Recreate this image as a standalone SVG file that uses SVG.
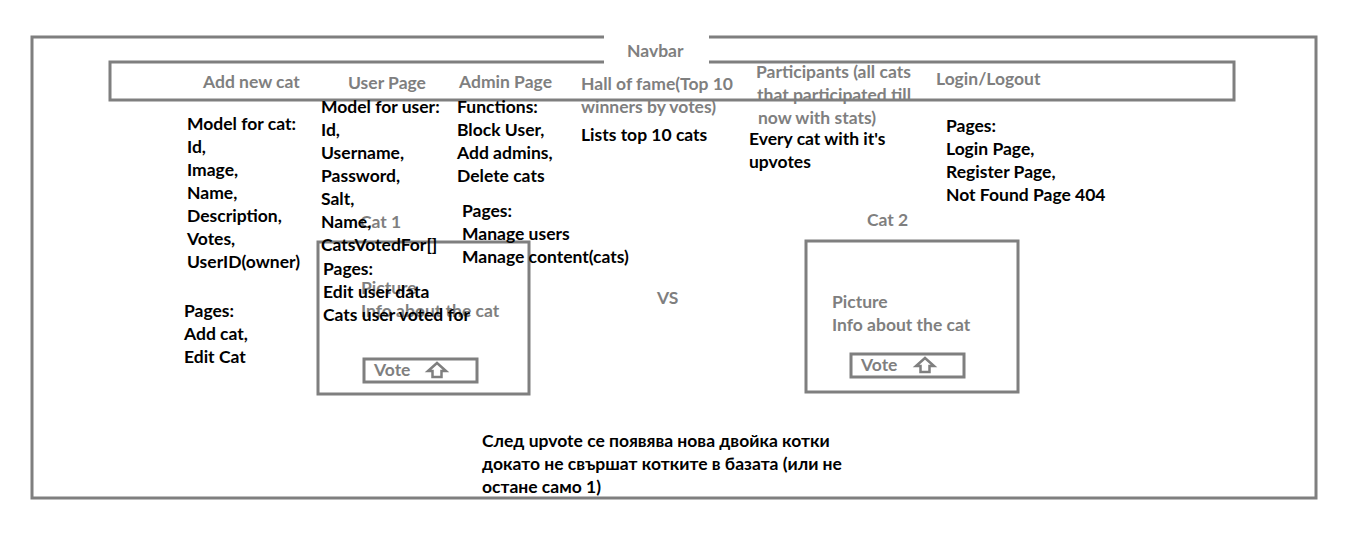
<svg xmlns="http://www.w3.org/2000/svg" width="1360" height="536" viewBox="0 0 1360 536">
<style>
text{font-family:Lato,"Liberation Sans","Noto Sans CJK SC",sans-serif;font-weight:bold;font-size:17.5px}
.g{fill:#7f7f7f}
.k{fill:#000}
.box{fill:none;stroke:#7f7f7f;stroke-width:3}
.arrow{fill:#fff;stroke:#7f7f7f;stroke-width:2.5;stroke-linejoin:miter}
</style>
<rect width="1360" height="536" fill="#fff"/>
<g id="page">
<rect class="box" x="32" y="37" width="1284" height="461"/>
</g>
<g id="navbar">
<rect class="box" x="110" y="62" width="1124" height="38"/>
<rect x="604" y="34" width="105" height="30" fill="#fff"/>
<text class="g" x="627" y="57">Navbar</text>
<text class="g" x="203" y="88">Add new cat</text>
<text class="g" x="348" y="89">User Page</text>
<text class="g" x="459" y="88">Admin Page</text>
<text class="g" x="581" y="90">Hall of fame(Top 10</text>
<text class="g" x="581" y="113">winners by votes)</text>
<text class="g" x="756" y="78">Participants (all cats</text>
<text class="g" x="757" y="101">that participated till</text>
<text class="g" x="758" y="124">now with stats)</text>
<text class="g" x="936" y="85">Login/Logout</text>
</g>
<g id="cat-model">
<text class="k" x="187" y="130">Model for cat:</text>
<text class="k" x="187" y="153">Id,</text>
<text class="k" x="187" y="176">Image,</text>
<text class="k" x="187" y="199">Name,</text>
<text class="k" x="187" y="222">Description,</text>
<text class="k" x="187" y="245">Votes,</text>
<text class="k" x="187" y="268">UserID(owner)</text>
<text class="k" x="184" y="317">Pages:</text>
<text class="k" x="184" y="340">Add cat,</text>
<text class="k" x="184" y="363">Edit Cat</text>
</g>
<g id="cat1">
<rect class="box" x="318" y="242" width="211" height="152"/>
<text class="g" x="360" y="228">Cat 1</text>
<text class="g" x="361" y="294">Picture</text>
<text class="g" x="361" y="317">Info about the cat</text>
<rect class="box" x="364" y="359" width="113" height="23"/>
<text class="g" x="374" y="376">Vote</text>
<path class="arrow" d="M437,363 L446,371 L441.5,371 L441.5,377 L432.5,377 L432.5,371 L428,371 Z"/>
</g>
<g id="user-model">
<text class="k" x="321" y="113">Model for user:</text>
<text class="k" x="321" y="136">Id,</text>
<text class="k" x="321" y="159">Username,</text>
<text class="k" x="321" y="182">Password,</text>
<text class="k" x="321" y="205">Salt,</text>
<text class="k" x="321" y="228">Name,</text>
<text class="k" x="321" y="251">CatsVotedFor[]</text>
<text class="k" x="323" y="275">Pages:</text>
<text class="k" x="323" y="298">Edit user data</text>
<text class="k" x="323" y="321">Cats user voted for</text>
</g>
<g id="admin">
<text class="k" x="457" y="113">Functions:</text>
<text class="k" x="457" y="136">Block User,</text>
<text class="k" x="457" y="159">Add admins,</text>
<text class="k" x="457" y="182">Delete cats</text>
<text class="k" x="462" y="217">Pages:</text>
<text class="k" x="462" y="240">Manage users</text>
<text class="k" x="462" y="263">Manage content(cats)</text>
</g>
<g id="hall">
<text class="k" x="581" y="141">Lists top 10 cats</text>
</g>
<g id="participants">
<text class="k" x="749" y="145">Every cat with it's</text>
<text class="k" x="749" y="168">upvotes</text>
</g>
<g id="login">
<text class="k" x="946" y="132">Pages:</text>
<text class="k" x="946" y="155">Login Page,</text>
<text class="k" x="946" y="178">Register Page,</text>
<text class="k" x="946" y="201">Not Found Page 404</text>
</g>
<g id="vs">
<text class="g" x="657" y="304">VS</text>
</g>
<g id="cat2">
<rect class="box" x="806" y="241" width="212" height="151"/>
<text class="g" x="867" y="226">Cat 2</text>
<text class="g" x="832" y="308">Picture</text>
<text class="g" x="832" y="331">Info about the cat</text>
<rect class="box" x="851" y="354" width="113" height="23"/>
<text class="g" x="861" y="371">Vote</text>
<path class="arrow" d="M925,358 L934,366 L929.5,366 L929.5,372 L920.5,372 L920.5,366 L916,366 Z"/>
</g>
<g id="note">
<text class="k" x="482" y="447">След upvote се появява нова двойка котки</text>
<text class="k" x="482" y="470">докато не свършат котките в базата (или не</text>
<text class="k" x="482" y="493">остане само 1)</text>
</g>
<g id="connectors"></g>
</svg>
